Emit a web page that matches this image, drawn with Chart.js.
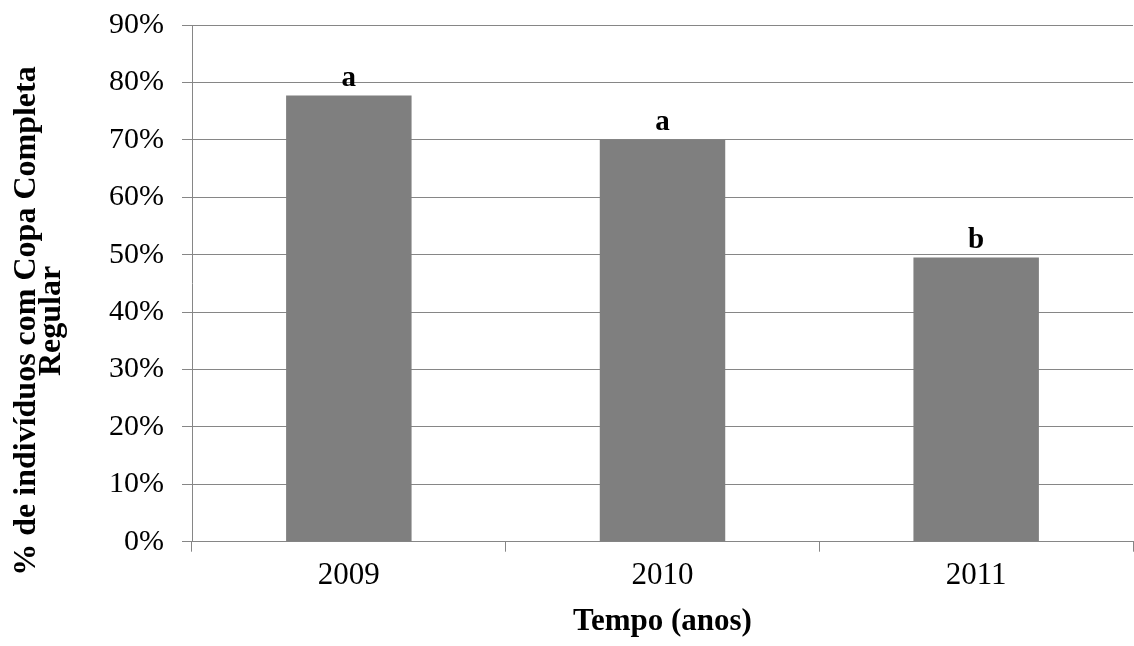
<!DOCTYPE html>
<html>
<head>
<meta charset="utf-8">
<script src="https://cdn.jsdelivr.net/npm/chart.js@4"></script>
<style>
  body { margin: 0; background: #fff; }
  #wrap { width: 1134px; height: 646px; }
</style>
</head>
<body>
<div id="wrap"><canvas id="barChart" width="1134" height="646"></canvas></div>
<script>
const years = ["2009", "2010", "2011"];
const percents = [77.7, 70, 49.5];
const letters = ["a", "a", "b"];
const yTicks = [0, 10, 20, 30, 40, 50, 60, 70, 80, 90];
const yTitleLines = ["% de indivíduos com Copa Completa", "Regular"];
const xTitle = "Tempo (anos)";

const SERIF = "'Liberation Serif', 'Times New Roman', serif";
const GRID = "#868686";
const BAR = "#7f7f7f";

// letters over the bars (a / a / b)
const letterPlugin = {
  id: "letters",
  afterDatasetsDraw(chart) {
    const ctx = chart.ctx;
    const meta = chart.getDatasetMeta(0);
    ctx.save();
    ctx.font = "bold 29px " + SERIF;
    ctx.fillStyle = "#000";
    ctx.textAlign = "center";
    ctx.textBaseline = "alphabetic";
    meta.data.forEach((bar, i) => {
      ctx.fillText(letters[i], bar.x, bar.y - 10);
    });
    ctx.restore();
  }
};

// y title drawn by hand so it can sit lower than the plot center, like the original
const yTitlePlugin = {
  id: "yTitle",
  afterDraw(chart) {
    const ctx = chart.ctx;
    ctx.save();
    ctx.translate(35, 321);
    ctx.rotate(-Math.PI / 2);
    ctx.font = "bold 32px " + SERIF;
    ctx.fillStyle = "#000";
    ctx.textAlign = "center";
    ctx.textBaseline = "alphabetic";
    yTitleLines.forEach((line, i) => ctx.fillText(line, 0, i * 25));
    ctx.restore();
  }
};

new Chart(document.getElementById("barChart"), {
  type: "bar",
  data: {
    labels: years,
    datasets: [{
      data: percents,
      backgroundColor: BAR,
      borderWidth: 0,
      barPercentage: 0.4,
      categoryPercentage: 1
    }]
  },
  options: {
    responsive: false,
    animation: false,
    layout: { padding: { top: 25, right: 1, left: 0, bottom: 0 } },
    plugins: {
      legend: { display: false },
      tooltip: { enabled: false }
    },
    scales: {
      x: {
        offset: true,
        grid: {
          offset: true,
          drawOnChartArea: false,
          drawTicks: true,
          tickLength: 10,
          color: GRID
        },
        border: { color: GRID },
        ticks: {
          color: "#000",
          padding: 6,
          font: { family: SERIF, size: 31 }
        },
        title: {
          display: true,
          text: xTitle,
          color: "#000",
          padding: { top: 0, bottom: 5 },
          font: { family: SERIF, size: 31, weight: "bold" }
        },
        afterFit(scale) { scale.height = 104.3; }
      },
      y: {
        min: 0,
        max: 90,
        afterBuildTicks(scale) { scale.ticks = yTicks.map(v => ({ value: v })); },
        grid: {
          color: GRID,
          tickLength: 10
        },
        border: { color: GRID },
        ticks: {
          color: "#000",
          padding: 18,
          font: { family: SERIF, size: 30 },
          callback: v => v + "%"
        },
        afterFit(scale) {
          scale.width = 192;
          scale.paddingTop = 0;
          scale.paddingBottom = 0;
        }
      }
    }
  },
  plugins: [letterPlugin, yTitlePlugin]
});
</script>
</body>
</html>
